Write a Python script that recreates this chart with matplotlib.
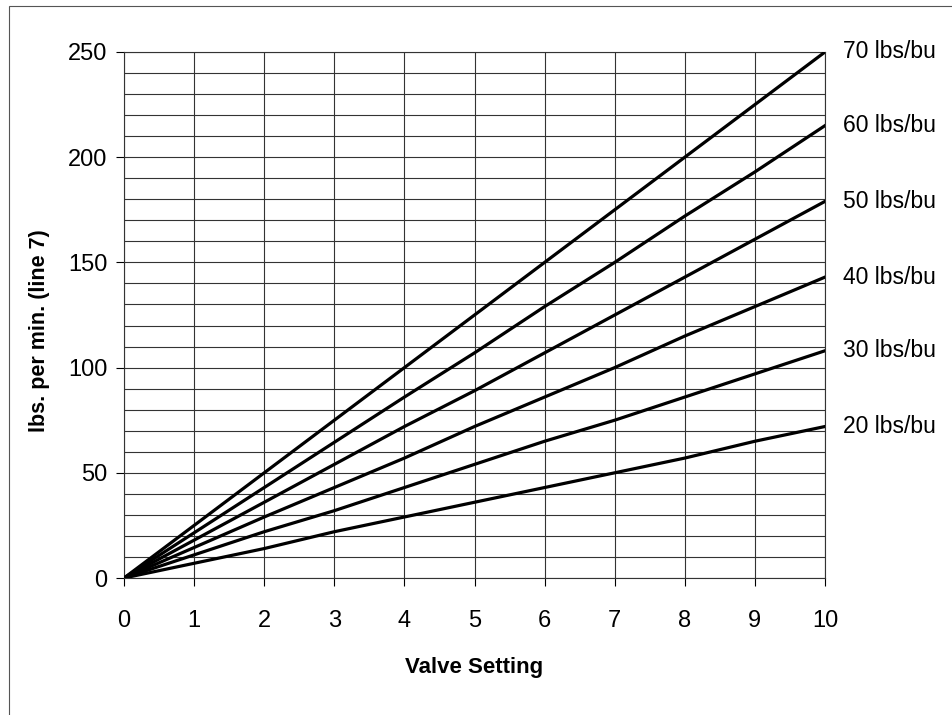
import matplotlib
matplotlib.use("Agg")
import matplotlib.pyplot as plt
from matplotlib.patches import Rectangle

###############################################################################
# Data
###############################################################################
valve_setting = [0, 1, 2, 3, 4, 5, 6, 7, 8, 9, 10]
lbs_70 = [0, 25, 50, 75, 100, 125, 150, 175, 200, 225, 250]
lbs_60 = [0, 21.5, 43, 64.5, 86, 107, 129, 150, 172, 193, 215]
lbs_50 = [0, 18, 36, 54, 72, 89, 107, 125, 143, 161, 179]
lbs_40 = [0, 14.5, 29, 43, 57, 72, 86, 100, 115, 129, 143]
lbs_30 = [0, 11, 22, 32, 43, 54, 65, 75, 86, 97, 108]
lbs_20 = [0, 7, 14, 22, 29, 36, 43, 50, 57, 65, 72]
series = [lbs_70, lbs_60, lbs_50, lbs_40, lbs_30, lbs_20]
series_labels = ['70 lbs/bu', '60 lbs/bu', '50 lbs/bu', '40 lbs/bu', '30 lbs/bu', '20 lbs/bu']
#------------------------------------------------------------------------------

plt.rcParams['font.family'] = ['Liberation Sans', 'DejaVu Sans']

fig = plt.figure(figsize=(9.52, 7.15), dpi=100)
ax = fig.add_axes([0.1303, 0.1916, 0.7363, 0.7357])

# thin outer frame (only top/left visible in the original)
fig.patches.append(Rectangle((9/952, -0.05), 1.1, 1 - 6/715 + 0.05, transform=fig.transFigure,
                             fill=False, edgecolor='#555555', linewidth=0.8))

for y in range(0, 251, 10):
    ax.axhline(y, color='#333333', linewidth=0.8, zorder=1)
for x in range(0, 11):
    ax.axvline(x, color='#333333', linewidth=0.8, zorder=1)

for vals, lab in zip(series, series_labels):
    ax.plot(valve_setting, vals, color='black', linewidth=2.3, zorder=3)
    ax.annotate(lab, xy=(valve_setting[-1], vals[-1]), xytext=(13, 0), textcoords='offset points',
                va='center', ha='left', fontsize=16.5, annotation_clip=False)

ax.set_xlim(0, 10)
ax.set_ylim(0, 250)
ax.set_xticks(range(0, 11))
ax.set_yticks(range(0, 251, 50))
ax.tick_params(axis='both', direction='out', length=6, width=0.8, labelsize=17)
ax.tick_params(axis='x', pad=17)
ax.tick_params(axis='y', pad=6)
for s in ax.spines.values():
    s.set_linewidth(0.8)
    s.set_color('#333333')

ax.set_xlabel('Valve Setting', fontsize=16, fontweight='bold', labelpad=18)
ax.set_ylabel('lbs. per min. (line 7)', fontsize=15.5, fontweight='bold')
ax.yaxis.set_label_coords(-0.1056, 0.47)

plt.savefig('out.png', dpi=100)
